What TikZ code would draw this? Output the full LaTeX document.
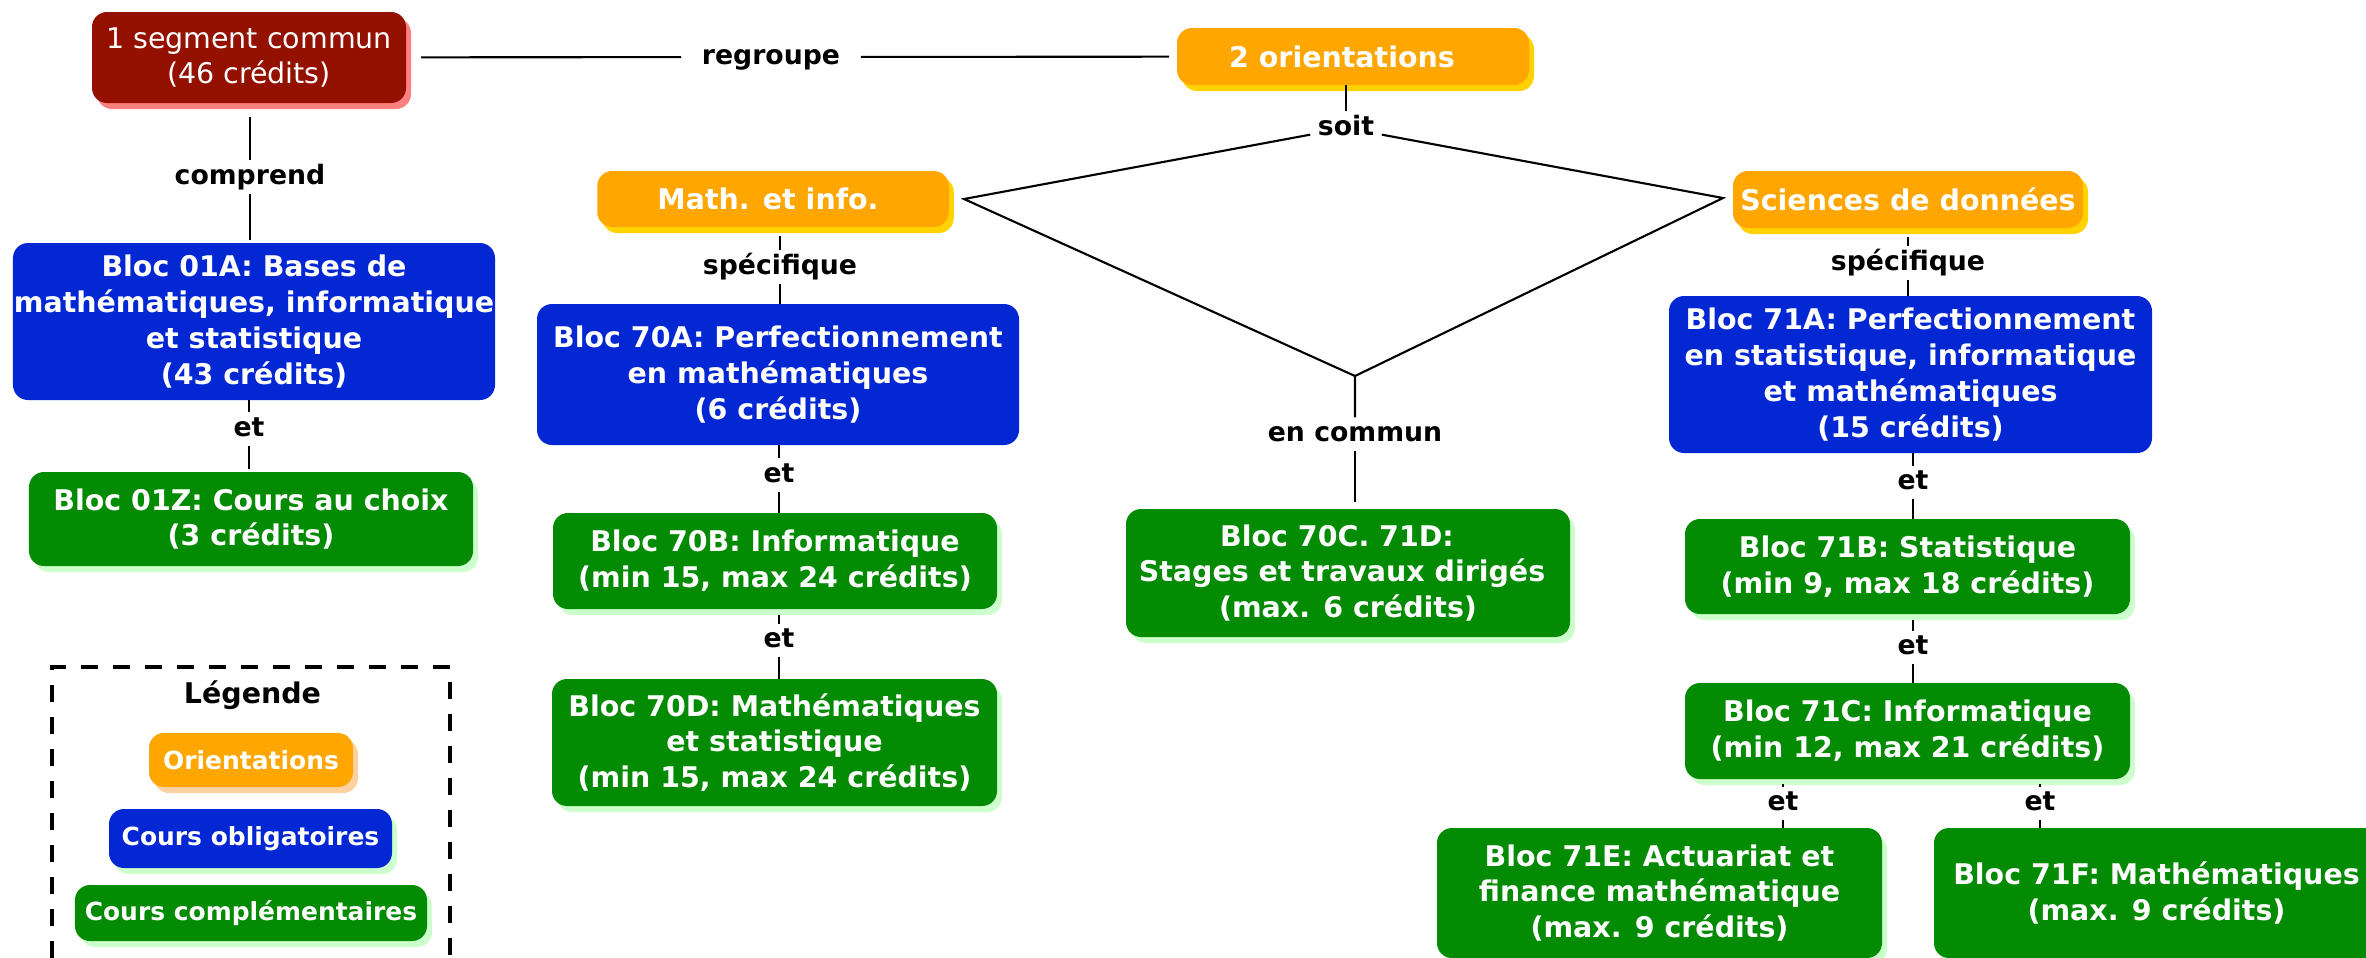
\documentclass[tikz,border=0pt]{standalone}
\usepackage{fontspec}
\setmainfont{DejaVu Sans}
\usetikzlibrary{shadows}
\definecolor{segred}{RGB}{148,17,0}
\definecolor{segsh}{RGB}{255,128,128}
\definecolor{orng}{RGB}{255,166,0}
\definecolor{yel}{RGB}{255,210,0}
\definecolor{peach}{RGB}{255,208,160}
\definecolor{blu}{RGB}{4,39,212}
\definecolor{grn}{RGB}{3,139,3}
\definecolor{gsh}{RGB}{204,255,204}
\begin{document}
\begin{tikzpicture}[
  cbox/.style={rounded corners=0.15cm, align=center, text=white, inner sep=0pt, outer sep=0pt,
    font=\bfseries\fontsize{8.1}{10.2}\selectfont},
  segbox/.style={cbox, fill=segred, font=\mdseries\fontsize{8.1}{10.2}\selectfont,
    general shadow={fill=segsh, shadow xshift=0.05cm, shadow yshift=-0.06cm}},
  oribox/.style={cbox, fill=orng,
    general shadow={fill=yel, shadow xshift=0.05cm, shadow yshift=-0.06cm}},
  obbox/.style={cbox, fill=blu},
  cpbox/.style={cbox, fill=grn,
    general shadow={fill=gsh, shadow xshift=0.05cm, shadow yshift=-0.06cm}},
  legtxt/.style={font=\bfseries\fontsize{7.1}{9}\selectfont},
  lab/.style={font=\bfseries\fontsize{7.6}{9}\selectfont, inner xsep=2pt, inner ysep=0.6pt,
    text height=6pt, text depth=1.8pt},
  conn/.style={line width=0.6pt, black}
]
\useasboundingbox (0,0) rectangle (23.66,-9.57);
\clip (0,0) rectangle (23.66,-9.57);

% concepts
\node[segbox, minimum width=3.14cm, minimum height=0.91cm] (seg) at (2.49,-0.575) {1 segment commun\\(46 crédits)};
\node[oribox, minimum width=3.52cm, minimum height=0.57cm] (orient) at (13.53,-0.565) {2 orientations\kern0.22cm};
\node[oribox, minimum width=3.515cm, minimum height=0.56cm] (math) at (7.73,-1.99) {Math. et info.\kern0.1cm};
\node[oribox, minimum width=3.50cm, minimum height=0.57cm] (sci) at (19.08,-1.995) {Sciences de données};

\node[obbox, minimum width=4.82cm, minimum height=1.57cm] (b01A) at (2.54,-3.215) {Bloc 01A: Bases de\\mathématiques, informatique\\et statistique\\(43 crédits)};
\node[cpbox, minimum width=4.44cm, minimum height=0.94cm] (b01Z) at (2.51,-5.19) {Bloc 01Z: Cours au choix\\(3 crédits)};

\node[obbox, minimum width=4.82cm, minimum height=1.41cm] (b70A) at (7.78,-3.745) {Bloc 70A: Perfectionnement\\en mathématiques\\(6 crédits)};
\node[cpbox, minimum width=4.44cm, minimum height=0.96cm] (b70B) at (7.75,-5.61) {Bloc 70B: Informatique\\(min 15, max 24 crédits)};
\node[cpbox, minimum width=4.45cm, minimum height=1.27cm] (b70D) at (7.745,-7.425) {Bloc 70D: Mathématiques\\et statistique\\(min 15, max 24 crédits)};

\node[cpbox, minimum width=4.44cm, minimum height=1.28cm] (b70C) at (13.48,-5.73) {Bloc 70C. 71D:\kern0.22cm\\Stages et travaux dirigés\kern0.12cm\\(max. 6 crédits)};

\node[obbox, minimum width=4.83cm, minimum height=1.57cm] (b71A) at (19.105,-3.745) {Bloc 71A: Perfectionnement\\en statistique, informatique\\et mathématiques\\(15 crédits)};
\node[cpbox, minimum width=4.45cm, minimum height=0.95cm] (b71B) at (19.075,-5.665) {Bloc 71B: Statistique\\(min 9, max 18 crédits)};
\node[cpbox, minimum width=4.45cm, minimum height=0.96cm] (b71C) at (19.075,-7.31) {Bloc 71C: Informatique\\(min 12, max 21 crédits)};
\node[cpbox, minimum width=4.45cm, minimum height=1.30cm] (b71E) at (16.595,-8.93) {Bloc 71E: Actuariat et\\finance mathématique\\(max. 9 crédits)};
\node[cpbox, minimum width=4.45cm, minimum height=1.30cm] (b71F) at (21.565,-8.93) {Bloc 71F: Mathématiques\\(max. 9 crédits)};

% linking phrases
\node[lab, inner xsep=0.2cm] (regroupe) at (7.71,-0.57) {regroupe};
\node[lab] (soit) at (13.46,-1.28) {soit};
\node[lab] (comprend) at (2.50,-1.77) {comprend};
\node[lab] (et01) at (2.49,-4.29) {et};
\node[lab] (spec1) at (7.80,-2.67) {spécifique};
\node[lab] (et70a) at (7.79,-4.75) {et};
\node[lab] (et70b) at (7.79,-6.40) {et};
\node[lab] (encommun) at (13.55,-4.34) {en commun};
\node[lab] (spec2) at (19.08,-2.63) {spécifique};
\node[lab] (et71a) at (19.13,-4.82) {et};
\node[lab] (et71b) at (19.13,-6.47) {et};
\node[lab] (et71e) at (17.83,-8.03) {et};
\node[lab] (et71f) at (20.40,-8.03) {et};

\coordinate (mathpt) at (9.64,-1.99);
\coordinate (scipt) at (17.23,-1.98);
\coordinate (junc) at (13.55,-3.76);

% connectors
\draw[conn, shorten <=0.15cm] (seg) -- (regroupe);
\draw[conn, shorten >=0.08cm] (regroupe) -- (orient);
\draw[conn] (soit) -- (soit |- orient.south);
\draw[conn] (soit) -- (mathpt) -- (junc) -- (encommun);
\draw[conn] (soit) -- (scipt) -- (junc);
\draw[conn, shorten >=0.07cm] (encommun) -- (encommun |- b70C.north);

\draw[conn, shorten >=0.14cm] (comprend) -- (comprend |- seg.south);
\draw[conn, shorten >=0.03cm] (comprend) -- (comprend |- b01A.north);
\draw[conn] (et01) -- (et01 |- b01A.south);
\draw[conn, shorten >=0.03cm] (et01) -- (et01 |- b01Z.north);

\draw[conn, shorten >=0.09cm] (spec1) -- (spec1 |- math.south);
\draw[conn] (spec1) -- (spec1 |- b70A.north);
\draw[conn] (et70a) -- (et70a |- b70A.south);
\draw[conn] (et70a) -- (et70a |- b70B.north);
\draw[conn, shorten >=0.06cm] (et70b) -- (et70b |- b70B.south);
\draw[conn] (et70b) -- (et70b |- b70D.north);

\draw[conn, shorten >=0.09cm] (spec2) -- (spec2 |- sci.south);
\draw[conn] (spec2) -- (spec2 |- b71A.north);
\draw[conn] (et71a) -- (et71a |- b71A.south);
\draw[conn] (et71a) -- (et71a |- b71B.north);
\draw[conn, shorten >=0.06cm] (et71b) -- (et71b |- b71B.south);
\draw[conn] (et71b) -- (et71b |- b71C.north);
\draw[conn, shorten >=0.05cm] (et71e) -- (et71e |- b71C.south);
\draw[conn] (et71e) -- (et71e |- b71E.north);
\draw[conn, shorten >=0.05cm] (et71f) -- (et71f |- b71C.south);
\draw[conn] (et71f) -- (et71f |- b71F.north);

% legend
\draw[line width=0.9pt, dash pattern=on 0.17cm off 0.15cm] (0.52,-9.9) -- (0.52,-6.67) -- (4.50,-6.67) -- (4.50,-9.9);
\node[font=\bfseries\fontsize{8.1}{10}\selectfont] (legtitle) at (2.525,-6.95) {Légende};
\node[cbox, legtxt, fill=orng, minimum width=2.04cm, minimum height=0.54cm,
  general shadow={fill=peach, shadow xshift=0.05cm, shadow yshift=-0.06cm}] (legori) at (2.51,-7.60) {Orientations};
\node[cbox, legtxt, fill=blu, minimum width=2.83cm, minimum height=0.59cm,
  general shadow={fill=gsh, shadow xshift=0.05cm, shadow yshift=-0.06cm}] (legob) at (2.505,-8.385) {Cours obligatoires};
\node[cbox, legtxt, fill=grn, minimum width=3.52cm, minimum height=0.56cm,
  general shadow={fill=gsh, shadow xshift=0.05cm, shadow yshift=-0.06cm}] (legcp) at (2.51,-9.13) {Cours complémentaires};
\end{tikzpicture}
\end{document}
